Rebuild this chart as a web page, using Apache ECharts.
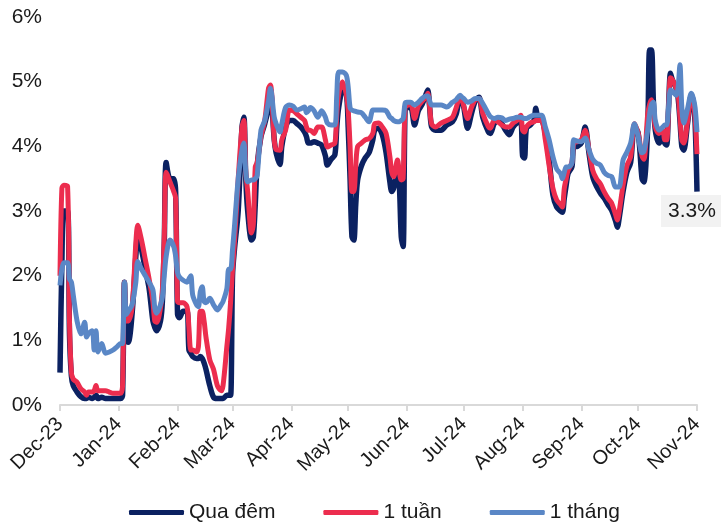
<!DOCTYPE html>
<html>
<head>
<meta charset="utf-8">
<script src="https://cdn.jsdelivr.net/npm/echarts@6/dist/echarts.min.js"></script>
<style>
  html, body { margin: 0; padding: 0; background: #fff; }
  #chart { width: 721px; height: 526px; }
</style>
</head>
<body>
<div id="chart"></div>
<script>
  // ngày lấy mẫu
  var dates = [
    // Dec-23
    '2023-12-01','2023-12-02','2023-12-03','2023-12-05','2023-12-06','2023-12-07','2023-12-08','2023-12-10','2023-12-12','2023-12-14','2023-12-15',
    '2023-12-16','2023-12-18','2023-12-19','2023-12-20','2023-12-21','2023-12-23','2023-12-25','2023-12-27','2023-12-29','2023-12-31',
    // Jan-24
    '2024-01-02','2024-01-03','2024-01-04','2024-01-05','2024-01-06','2024-01-08','2024-01-10','2024-01-11','2024-01-13','2024-01-15','2024-01-17',
    '2024-01-19','2024-01-20','2024-01-21','2024-01-23','2024-01-24','2024-01-25','2024-01-26','2024-01-28','2024-01-30','2024-01-31',
    // Feb-24
    '2024-02-01','2024-02-02','2024-02-04','2024-02-06','2024-02-07','2024-02-08','2024-02-09','2024-02-11','2024-02-12','2024-02-13','2024-02-14',
    '2024-02-15','2024-02-16','2024-02-18','2024-02-20','2024-02-22','2024-02-24','2024-02-25','2024-02-27','2024-02-28','2024-02-29',
    // Mar-24
    '2024-03-01','2024-03-02','2024-03-04','2024-03-06','2024-03-07','2024-03-08','2024-03-09','2024-03-11','2024-03-12','2024-03-13','2024-03-14',
    '2024-03-16','2024-03-18','2024-03-20','2024-03-21','2024-03-23','2024-03-24','2024-03-26','2024-03-27','2024-03-29','2024-03-31',
    // Apr-24
    '2024-04-02','2024-04-04','2024-04-06','2024-04-08','2024-04-09','2024-04-10','2024-04-11','2024-04-13','2024-04-15','2024-04-17','2024-04-19',
    '2024-04-20','2024-04-22','2024-04-24','2024-04-25','2024-04-26','2024-04-28','2024-04-30',
    // May-24
    '2024-05-01','2024-05-02','2024-05-03','2024-05-04','2024-05-05','2024-05-06','2024-05-08','2024-05-10','2024-05-12','2024-05-14','2024-05-15',
    '2024-05-17','2024-05-19','2024-05-21','2024-05-23','2024-05-24','2024-05-25','2024-05-27','2024-05-28','2024-05-29','2024-05-30','2024-05-31',
    // Jun-24
    '2024-06-01','2024-06-03','2024-06-05','2024-06-07','2024-06-09','2024-06-11','2024-06-12','2024-06-13','2024-06-14','2024-06-16','2024-06-19',
    '2024-06-22','2024-06-25','2024-06-27','2024-06-29','2024-06-30',
    // Jul-24
    '2024-07-01','2024-07-03','2024-07-05','2024-07-07','2024-07-09','2024-07-11','2024-07-14','2024-07-15','2024-07-17','2024-07-19','2024-07-21',
    '2024-07-23','2024-07-25','2024-07-27','2024-07-29','2024-07-31',
    // Aug-24
    '2024-08-01','2024-08-02','2024-08-03','2024-08-05','2024-08-07','2024-08-08','2024-08-09','2024-08-11','2024-08-13','2024-08-15','2024-08-17',
    '2024-08-19','2024-08-21','2024-08-22','2024-08-23','2024-08-24','2024-08-25','2024-08-27','2024-08-28','2024-08-30',
    // Sep-24
    '2024-09-01','2024-09-03','2024-09-05','2024-09-07','2024-09-09','2024-09-11','2024-09-13','2024-09-15','2024-09-17','2024-09-19','2024-09-20',
    '2024-09-21','2024-09-23','2024-09-25','2024-09-27','2024-09-29',
    // Oct-24
    '2024-10-01','2024-10-03','2024-10-04','2024-10-06','2024-10-07','2024-10-08','2024-10-09','2024-10-10','2024-10-12','2024-10-14','2024-10-15',
    '2024-10-16','2024-10-17','2024-10-18','2024-10-19','2024-10-21','2024-10-22','2024-10-23','2024-10-24','2024-10-25','2024-10-27','2024-10-29',
    '2024-10-30','2024-10-31',
    // Nov-24
    '2024-11-01'
  ];

  // Qua đêm (%)
  var quaDem = [
    0.5, 2.2, 3.0, 3.0, 1.1, 0.45, 0.3, 0.2, 0.13, 0.1, 0.1, 0.12, 0.1, 0.12, 0.15, 0.1, 0.12, 0.1, 0.1, 0.1, 0.1,
    0.1, 0.15, 1.9, 1.0, 0.97, 1.4, 2.3, 2.65, 2.4, 2.1, 1.8, 1.3, 1.2, 1.15, 1.3, 1.6, 2.5, 3.75, 3.5, 3.5, 3.3,
    1.4, 1.35, 1.45, 1.45, 0.85, 0.8, 0.75, 0.72, 0.72, 0.75, 0.72, 0.65, 0.55, 0.3, 0.12, 0.1, 0.1, 0.1, 0.15, 0.15, 0.15,
    2.0, 2.4, 3.0, 4.3, 4.45, 3.5, 3.0, 2.55, 2.6, 3.1, 3.7, 4.15, 4.35, 4.6, 4.87, 4.1, 3.9, 3.72, 4.0, 4.3, 4.4,
    4.4, 4.35, 4.3, 4.22, 4.15, 4.05, 4.05, 4.07, 4.05, 4.02, 3.85, 3.71, 3.8, 3.87, 4.3, 4.6, 4.84, 4.82,
    4.3, 3.5, 2.6, 2.55, 3.1, 3.48, 3.7, 3.82, 3.9, 4.1, 4.25, 4.28, 4.18, 3.9, 3.45, 3.3, 3.35, 3.63, 3.4, 2.6, 2.45, 4.56,
    4.6, 4.6, 4.33, 4.55, 4.65, 4.8, 4.87, 4.6, 4.3, 4.25, 4.25, 4.33, 4.38, 4.5, 4.74, 4.72,
    4.6, 4.28, 4.5, 4.7, 4.76, 4.45, 4.22, 4.2, 4.35, 4.4, 4.35, 4.25, 4.18, 4.3, 4.36, 4.38,
    3.85, 3.82, 4.28, 4.33, 4.4, 4.59, 4.45, 4.43, 4.2, 3.8, 3.25, 3.06, 3.0, 2.98, 3.2, 3.4, 3.58, 3.68, 3.99, 4.0,
    4.05, 4.3, 3.9, 3.53, 3.38, 3.28, 3.2, 3.1, 3.01, 2.85, 2.75, 2.9, 3.3, 3.6, 3.75, 4.3,
    4.2, 3.5, 3.45, 4.3, 5.49, 5.49, 4.7, 4.25, 4.05, 4.2, 4.05, 4.02, 4.6, 5.13, 5.03, 4.9, 4.76, 4.4, 4.0, 3.94, 4.35, 4.79, 4.7, 4.36,
    3.3
  ];

  // 1 tuần (%)
  var motTuan = [
    2.0, 3.35, 3.4, 3.38, 1.3, 0.5, 0.4, 0.35, 0.25, 0.2, 0.15, 0.2, 0.2, 0.22, 0.3, 0.22, 0.22, 0.22, 0.2, 0.18, 0.18,
    0.18, 0.3, 1.9, 1.3, 1.3, 1.5, 2.5, 2.78, 2.55, 2.25, 1.95, 1.6, 1.3, 1.28, 1.5, 1.78, 2.6, 3.6, 3.45, 3.3, 3.2,
    1.6, 1.58, 1.58, 1.52, 1.2, 0.85, 0.85, 0.82, 0.9, 1.45, 1.45, 1.3, 1.05, 0.7, 0.55, 0.3, 0.22, 0.3, 0.9, 1.2, 1.6,
    2.1, 2.5, 3.5, 4.3, 4.4, 3.6, 3.3, 2.66, 2.8, 3.68, 3.75, 4.15, 4.4, 4.9, 4.95, 4.1, 3.95, 3.94, 4.1, 4.25, 4.56,
    4.55, 4.5, 4.45, 4.4, 4.3, 4.25, 4.25, 4.2, 4.3, 4.3, 4.1, 3.99, 4.02, 4.05, 4.5, 4.8, 5.0, 4.8,
    4.56, 4.0, 3.3, 3.3, 3.7, 4.0, 4.05, 4.1, 4.12, 4.2, 4.35, 4.36, 4.3, 4.2, 3.84, 3.6, 3.53, 3.79, 3.6, 3.48, 3.5, 4.61,
    4.63, 4.66, 4.43, 4.62, 4.7, 4.76, 4.82, 4.6, 4.35, 4.3, 4.36, 4.4, 4.45, 4.6, 4.76, 4.72,
    4.62, 4.43, 4.6, 4.72, 4.74, 4.51, 4.3, 4.28, 4.4, 4.38, 4.33, 4.3, 4.3, 4.36, 4.4, 4.48,
    4.25, 4.22, 4.3, 4.36, 4.38, 4.4, 4.4, 4.4, 4.1, 3.7, 3.35, 3.17, 3.1, 3.06, 3.35, 3.5, 3.63, 3.75, 4.05, 4.07,
    4.1, 4.25, 3.95, 3.63, 3.5, 3.42, 3.3, 3.2, 3.12, 2.95, 2.86, 3.0, 3.4, 3.7, 3.84, 4.35,
    4.2, 3.85, 3.8, 4.5, 4.65, 4.72, 4.6, 4.3, 4.2, 4.25, 4.1, 4.1, 4.6, 5.06, 5.03, 4.9, 4.82, 4.45, 4.1, 4.05, 4.38, 4.79, 4.7, 4.45,
    3.88
  ];

  // 1 tháng (%)
  var motThang = [
    1.85, 2.1, 2.2, 2.2, 1.95, 1.9, 1.7, 1.3, 1.1, 1.28, 1.05, 1.1, 1.15, 0.85, 1.15, 0.82, 0.95, 0.8, 0.82, 0.85, 0.9,
    0.95, 0.95, 1.9, 1.4, 1.45, 1.55, 1.9, 2.22, 2.1, 2.0, 1.9, 1.78, 1.5, 1.42, 1.55, 1.67, 2.0, 2.3, 2.55, 2.45, 2.3,
    2.05, 1.98, 1.93, 1.9, 1.95, 2.0, 1.7, 1.55, 1.52, 1.75, 1.83, 1.6, 1.58, 1.65, 1.55, 1.47, 1.55, 1.6, 1.8, 2.1, 2.1,
    2.4, 2.75, 3.5, 3.95, 4.05, 3.6, 3.45, 3.48, 3.48, 3.5, 3.55, 4.25, 4.4, 4.7, 4.9, 4.45, 4.35, 4.22, 4.35, 4.6, 4.64,
    4.62, 4.56, 4.58, 4.61, 4.52, 4.55, 4.6, 4.55, 4.45, 4.55, 4.45, 4.36, 4.33, 4.33, 4.8, 5.15, 5.15, 5.1,
    4.92, 4.6, 4.56, 4.55, 4.54, 4.53, 4.52, 4.45, 4.38, 4.56, 4.56, 4.56, 4.56, 4.55, 4.45, 4.43, 4.4, 4.38, 4.38, 4.4, 4.43, 4.66,
    4.68, 4.68, 4.64, 4.68, 4.74, 4.78, 4.78, 4.7, 4.64, 4.64, 4.64, 4.61, 4.68, 4.72, 4.79, 4.76,
    4.74, 4.68, 4.7, 4.74, 4.74, 4.66, 4.5, 4.46, 4.43, 4.45, 4.44, 4.4, 4.42, 4.43, 4.45, 4.45,
    4.44, 4.43, 4.43, 4.46, 4.48, 4.48, 4.48, 4.48, 4.3, 4.1, 3.84, 3.65, 3.58, 3.5, 3.6, 3.68, 3.68, 3.74, 4.1, 4.08,
    4.07, 4.13, 3.95, 3.8, 3.74, 3.71, 3.6, 3.55, 3.53, 3.37, 3.37, 3.37, 3.79, 3.91, 4.05, 4.35,
    4.15, 3.9, 3.92, 4.25, 4.5, 4.65, 4.68, 4.4, 4.25, 4.3, 4.33, 4.33, 4.6, 4.87, 4.85, 4.79, 4.9, 5.26, 4.6, 4.36, 4.58, 4.82, 4.75, 4.6,
    4.22
  ];

  var seriesNames = ['Qua đêm', '1 tuần', '1 tháng'];
  var seriesColors = ['#0b2161', '#ec2d4e', '#5a87c6'];
  var monthNames = ['Jan', 'Feb', 'Mar', 'Apr', 'May', 'Jun', 'Jul', 'Aug', 'Sep', 'Oct', 'Nov', 'Dec'];

  var font = '"Liberation Sans", Arial, sans-serif';

  function pairs(values) {
    return dates.map(function (d, i) { return [d, values[i]]; });
  }

  var last = dates.length - 1;

  var myChart = echarts.init(document.getElementById('chart'));
  myChart.setOption({
    animation: false,
    textStyle: { fontFamily: font },
    grid: { left: 60, right: 24, top: 17, bottom: 121 },
    legend: {
      data: seriesNames,
      left: 124,
      top: 497,
      icon: 'roundRect',
      itemWidth: 55,
      itemHeight: 5,
      itemGap: 48,
      textStyle: { fontSize: 21, color: '#1a1a1a', fontFamily: font }
    },
    xAxis: {
      type: 'time',
      min: '2023-12-01',
      max: '2024-11-01',
      splitNumber: 11,
      minInterval: 28 * 24 * 3600 * 1000,
      maxInterval: 31 * 24 * 3600 * 1000,
      axisLine: { lineStyle: { color: '#d9d9d9', width: 2 } },
      axisTick: { show: true, length: 6, lineStyle: { color: '#d9d9d9', width: 2 } },
      splitLine: { show: false },
      axisLabel: {
        rotate: 45,
        margin: 16,
        fontSize: 20,
        color: '#1a1a1a',
        showMinLabel: true,
        showMaxLabel: true,
        hideOverlap: false,
        formatter: function (value) {
          var d = new Date(value);
          return monthNames[d.getMonth()] + '-' + String(d.getFullYear()).slice(2);
        }
      }
    },
    yAxis: {
      type: 'value',
      min: 0,
      max: 6,
      interval: 1,
      axisLine: { show: false },
      axisTick: { show: false },
      splitLine: { show: false },
      axisLabel: { formatter: '{value}%', fontSize: 21, color: '#1a1a1a', margin: 18 }
    },
    series: [
      {
        name: seriesNames[0],
        type: 'line',
        data: pairs(quaDem),
        showSymbol: false,
        smooth: 0.3,
        color: seriesColors[0],
        lineStyle: { width: 5.5, color: seriesColors[0] },
        markPoint: {
          symbol: 'circle',
          symbolSize: 1,
          itemStyle: { color: 'rgba(0,0,0,0)' },
          label: {
            show: true,
            position: 'bottom',
            distance: 3,
            offset: [-5, 0],
            formatter: function (p) { return p.data.coord[1].toFixed(1) + '%'; },
            backgroundColor: '#f2f2f2',
            padding: [6, 7, 5, 7],
            fontSize: 21,
            color: '#1a1a1a'
          },
          data: [{ coord: [dates[last], quaDem[last]] }]
        }
      },
      {
        name: seriesNames[1],
        type: 'line',
        data: pairs(motTuan),
        showSymbol: false,
        smooth: 0.3,
        color: seriesColors[1],
        lineStyle: { width: 5, color: seriesColors[1] }
      },
      {
        name: seriesNames[2],
        type: 'line',
        data: pairs(motThang),
        showSymbol: false,
        smooth: 0.3,
        color: seriesColors[2],
        lineStyle: { width: 5, color: seriesColors[2] }
      }
    ]
  });
</script>
</body>
</html>
